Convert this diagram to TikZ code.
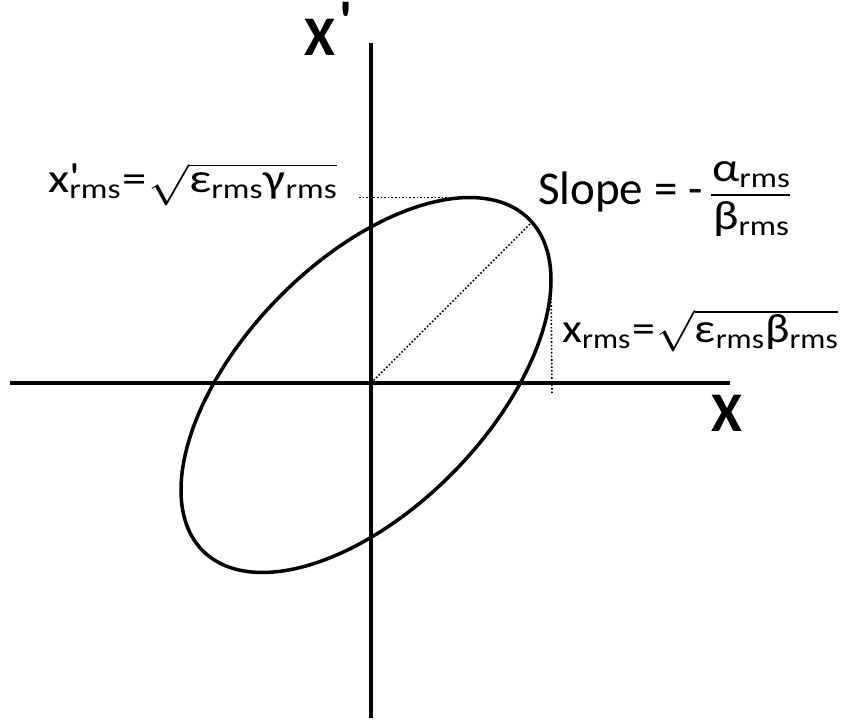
\RequirePackage{fix-cm}
\documentclass[tikz,border=0pt]{standalone}
\usepackage{fontspec}
\setmainfont{Carlito}
\newcommand\rmsub{\raisebox{-6pt}{\fontsize{28}{30}\selectfont rms}}
\newcommand\wide[2][1.17]{\scalebox{#1}[1]{#2}}
\begin{document}
\begin{tikzpicture}[x=1pt,y=-1pt,
 axis/.style={line width=3.2pt},
 curve/.style={line width=3.5pt},
 guide/.style={line width=1.6pt, dotted},
 bar/.style={line width=2.6pt},
 lbl/.style={inner sep=0pt, anchor=base west, font=\fontsize{41}{44}\selectfont},
 slopelbl/.style={inner sep=0pt, anchor=base west, font=\fontsize{47}{50}\selectfont},
 big/.style={inner sep=0pt, anchor=base west, font=\fontsize{56}{60}\selectfont\bfseries}]
\useasboundingbox (0,0) rectangle (847,727);
\coordinate (O) at (371,383);
\coordinate (vtop) at (371,43);
\coordinate (vbot) at (371,718);
\coordinate (hl) at (10,383);
\coordinate (hr) at (730,383);
\coordinate (etop) at (469.6,197.5);
\coordinate (eright) at (551,280);
\coordinate (ediag) at (531,223);
\coordinate (tleft) at (359,197.5);
\coordinate (rbot) at (552,393);
\draw[axis] (vtop) -- (vbot);
\draw[axis] (hl) -- (hr);
\draw[curve] plot[domain=0:358, samples=180, smooth cycle]
  ({366+185*cos(\x)}, {385-(105*cos(\x)+155.3*sin(\x))});
\draw[guide] (tleft) -- (etop);
\draw[guide] (eright) -- (rbot);
\draw[guide] (O) -- (ediag);
\node[big] (xplabel) at (304,56) {X\hspace{4pt}\raisebox{15pt}{\textquotesingle}};
\node[big] (xlabel) at (711,432) {X};
\node[lbl] (xpr) at (48,193) {\wide[1.19]{x\makebox[0pt][l]{\raisebox{1pt}{\textquotesingle}}\rmsub\hspace{2pt}=\hspace{1pt}$\sqrt{\mbox{ε\rmsub\hspace{1pt}γ\rmsub}}$}};
\node[slopelbl] (slope) at (538,205) {Slope = -};
\coordinate (barl) at (711,195);
\coordinate (barr) at (790,195);
\node[lbl, anchor=base] (num) at (751,182) {\wide{α\rmsub}};
\node[lbl, anchor=base] (den) at (751,230) {\wide{β\rmsub}};
\draw[bar] (barl) -- (barr);
\node[lbl] (xr) at (562,343) {\wide[1.12]{x\rmsub\hspace{2pt}=\hspace{1pt}$\sqrt{\mbox{ε\rmsub\hspace{1pt}β\rmsub}}$}};
\end{tikzpicture}
\end{document}
